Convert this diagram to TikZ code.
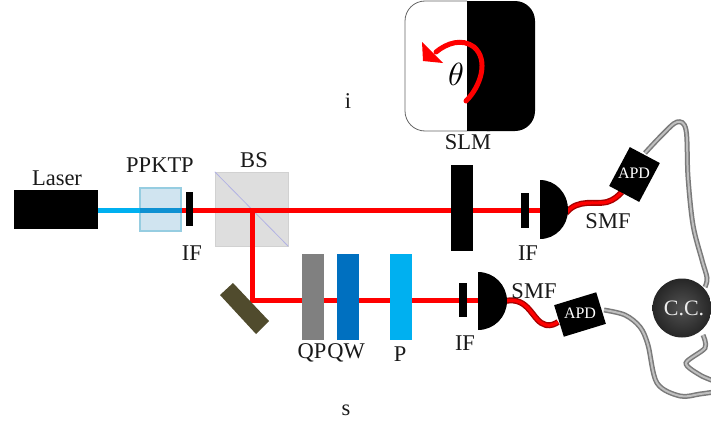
\documentclass[tikz,border=0pt]{standalone}
\usepackage{fontspec}
\setmainfont{Liberation Serif}
\usetikzlibrary{shadings}
\definecolor{beamred}{RGB}{255,0,0}
\definecolor{pumpblue}{RGB}{0,176,240}
\definecolor{qwblue}{RGB}{0,112,192}
\definecolor{mirrorc}{RGB}{80,75,45}
\definecolor{crystalc}{RGB}{208,228,240}
\definecolor{crystale}{RGB}{150,205,225}
\definecolor{innerblue}{RGB}{15,145,210}
\tikzset{
  lbl/.style={font=\fontsize{22.5}{22.5}\selectfont, text=black!90, inner sep=0pt},
  block/.style={fill=black, inner sep=0pt, minimum width=#1},
  plate/.style={inner sep=0pt, minimum width=22pt, minimum height=86pt},
  redbeam/.style={draw=beamred, line width=5pt},
  fibre/.style={draw=red!65!black, line width=1.4pt, double=beamred, double distance=3.2pt},
  cable/.style={draw=black!52, line width=1.5pt, double=black!25, double distance=2pt},
  apdbox/.style={fill=black, inner sep=0pt},
  apdtxt/.style={text=white, font=\fontsize{16}{16}\selectfont, inner sep=0pt},
}
\begin{document}
\begin{tikzpicture}[x=1pt,y=-1pt]
\clip (0,0) rectangle (711,423);
\fill[white] (0,0) rectangle (711,423);

% SLM pattern
\draw[black!60, line width=.8pt, rounded corners=20pt] (467,1) -- (405,1) -- (405,131) -- (467,131);
\fill[black, rounded corners=20pt] (467,1) -- (535,1) -- (535,131) -- (467,131) -- cycle;
\fill[black] (467,1) rectangle (490,20) (467,110) rectangle (490,131);
\coordinate (rotstart) at (466,101);
\coordinate (rotend) at (436,52);
\draw[beamred, line width=5pt, line cap=round] (rotstart) .. controls (481,86) and (489,60) .. (474,47) .. controls (462,38) and (447,43) .. (rotend);
\fill[beamred] (422,42) -- (443,63) -- (423,61) -- cycle;
\node[inner sep=0pt, scale=3.2] (theta) at (456,74) {$\theta$};

% Beam splitter
\node[fill=black!13, draw=black!18, inner sep=0pt, minimum width=73pt, minimum height=74pt] (bs) at (251.5,209) {};
\draw[black!35!blue!30!white, line width=.8pt] (bs.north west) -- (bs.south east);

% Beams
\coordinate (laserout) at (98,210.5);
\coordinate (ppin) at (140,210.5);
\coordinate (ppout) at (182,210.5);
\coordinate (split) at (252,210.5);
\coordinate (idlerend) at (540,210.5);
\coordinate (corner) at (252,300);
\coordinate (signalend) at (480,300);

% Crystal
\node[fill=crystalc, draw=crystale, line width=1.2pt, inner sep=0pt, minimum width=41pt, minimum height=43pt] (ppktp) at (160.5,209.5) {};

\draw[pumpblue, line width=5pt] (laserout) -- (ppin);
\draw[innerblue, line width=5pt] (ppin) -- (ppout);
\draw[redbeam] (ppout) -- (split) -- (idlerend);
\draw[redbeam, line join=miter] (split) -- (corner) -- (signalend);

% Source and filters
\node[block=84pt, minimum height=39pt] (laser) at (56,209.5) {};
\node[block=7pt, minimum height=34pt] (ifa) at (189.5,209) {};
\node[block=22pt, minimum height=86pt] (slm) at (462,208) {};
\node[block=8pt, minimum height=35pt] (ifb) at (525,210.5) {};
\node[block=8pt, minimum height=34pt] (ifc) at (463,300) {};

% Mirror
\fill[mirrorc] (220,295) -- (233,283) -- (269,321) -- (256,334) -- cycle;

% Plates
\node[plate, fill=black!50] (qp) at (313,297) {};
\node[plate, fill=qwblue] (qw) at (347.5,297) {};
\node[plate, fill=pumpblue] (pol) at (400.5,297) {};

% Cables
\coordinate (apdAout) at (645,153);
\coordinate (apdBout) at (604,310);
\coordinate (ccTop) at (705,287);
\coordinate (ccBot) at (703,335);
\coordinate (exitA) at (714,392);
\coordinate (exitB) at (714,381);
\draw[cable] plot[smooth,tension=.55] coordinates {(apdAout) (662,135) (677,122) (686,130) (688,177) (693,225) (702,260) (707,278) (ccTop)};
\draw[cable] plot[smooth,tension=.55] coordinates {(apdBout) (625,315) (640,327) (648,345) (657,383) (680,396) (700,394) (exitA)};
\draw[cable] plot[smooth,tension=.5] coordinates {(ccBot) (705,348) (686,363) (700,375) (exitB)};

% Fibres
\coordinate (fibAa) at (566,213);
\coordinate (fibAb) at (622,192);
\coordinate (fibBa) at (505,301);
\coordinate (fibBb) at (558,322);
\draw[fibre] (fibAa) .. controls (578,198) and (596,205) .. (607,202) .. controls (614,200) and (618,196) .. (fibAb);
\draw[fibre] (fibBa) .. controls (530,296) and (532,322) .. (546,325) .. controls (551,326) and (555,324) .. (fibBb);

% Couplers
\fill[black] (540,180) .. controls (555.5,180) and (568,193) .. (568,210) .. controls (568,226) and (555.5,239) .. (540,239) -- cycle;
\fill[black] (478,272) .. controls (494,272) and (507,285) .. (507,301) .. controls (507,317) and (494,330) .. (478,330) -- cycle;

% Detectors
\node[apdbox, minimum width=34pt, minimum height=44pt, rotate=-28] (apda) at (634.5,174.5) {};
\node[apdbox, minimum width=44pt, minimum height=33pt, rotate=17] (apdb) at (580,314.5) {};
\node[apdtxt] at (634,173) {APD};
\node[apdtxt] at (580,313) {APD};

% Coincidence counter
\node[circle, inner sep=0pt, minimum size=59pt, inner color=black!68, outer color=black!85] (cc) at (682,308) {};
\node[text=white!92!black, font=\fontsize{22}{22}\selectfont, inner sep=0pt] at (684,308) {C.C.};

% Labels
\node[lbl] at (57,178) {Laser};
\node[lbl] at (160,165) {PPKTP};
\node[lbl] at (254,160) {BS};
\node[lbl] at (192,253) {IF};
\node[lbl] at (468,142) {SLM};
\node[lbl] at (528,253) {IF};
\node[lbl] at (608,221) {SMF};
\node[lbl] at (534,291) {SMF};
\node[lbl] at (465,343) {IF};
\node[lbl] at (312,353) {QP};
\node[lbl] at (346,353) {QW};
\node[lbl] at (400,354) {P};
\node[lbl] at (348,101) {i};
\node[lbl] at (346,410) {s};
\end{tikzpicture}
\end{document}
